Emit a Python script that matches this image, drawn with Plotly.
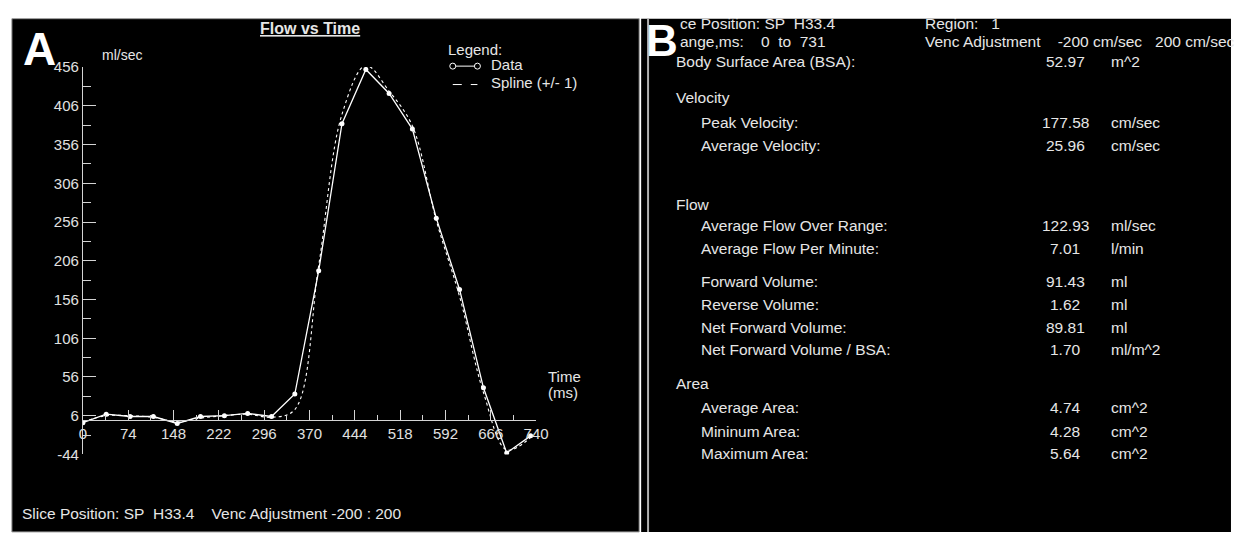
import plotly.graph_objects as go

W, H = 1242, 538

# ---------------- data ----------------
time_ms = [0, 38, 77, 115, 154, 192, 231, 269, 308, 346, 385, 423, 462, 500, 538, 577, 615, 654, 692, 731]
flow_data = [-3, 8, 5, 5, -4, 5, 6, 9, 5, 34, 193, 383, 453, 422, 376, 261, 169, 42, -42, -20]
flow_spline = [-2, 6, 6, 4, -2, 3, 6, 8, 4, 14, 200, 395, 458, 425, 380, 258, 160, 36, -38, -22]

y_ticks = [-44, 6, 56, 106, 156, 206, 256, 306, 356, 406, 456]
y_minor = [-19, 31, 81, 131, 181, 231, 281, 331, 381, 431]
x_ticks = [0, 74, 148, 222, 296, 370, 444, 518, 592, 666, 740]
x_minor = [37, 111, 185, 259, 333, 407, 481, 555, 629, 703]

header_rows = [("ce Position: SP\u00a0\u00a0H33.4", "Region:\u00a0\u00a0\u00a01"),
               ("ange,ms:\u00a0\u00a0\u00a0\u00a00\u00a0\u00a0to\u00a0\u00a0731",
                "Venc Adjustment\u00a0\u00a0\u00a0\u00a0-200 cm/sec\u00a0\u00a0\u00a0200 cm/sec")]
section_titles = ["Velocity", "Flow", "Area"]
stat_labels = ["Body Surface Area (BSA):", "Peak Velocity:", "Average Velocity:",
               "Average Flow Over Range:", "Average Flow Per Minute:",
               "Forward Volume:", "Reverse Volume:", "Net Forward Volume:",
               "Net Forward Volume / BSA:", "Average Area:", "Mininum Area:", "Maximum Area:"]
stat_values = ["52.97", "177.58", "25.96", "122.93", "7.01", "91.43", "1.62", "89.81",
               "1.70", "4.74", "4.28", "5.64"]
stat_units = ["m^2", "cm/sec", "cm/sec", "ml/sec", "l/min", "ml", "ml", "ml", "ml/m^2",
              "cm^2", "cm^2", "cm^2"]

# ---------------- layout helpers (pixel -> paper) ----------------
def px(x):
    return x / W

def py(y):
    return 1 - y / H

FONT = "Liberation Sans, Arial, sans-serif"
AX = "#d4d4d4"

# plot area in pixels
X0, X1 = 80, 539.5          # time 0 .. 740
YT, YB = 60, 460            # flow 456 .. -44
Y_ZERO = YB - (0 - (-44)) * (YB - YT) / 500.0

fig = go.Figure()

fig.add_trace(go.Scatter(x=time_ms, y=flow_spline, mode="lines", line_shape="spline",
                         line=dict(color="white", width=1.1, dash="dot"),
                         name="Spline (+/- 1)", showlegend=False, hoverinfo="skip"))
fig.add_trace(go.Scatter(x=time_ms, y=flow_data, mode="lines+markers",
                         line=dict(color="white", width=1.3),
                         marker=dict(color="white", size=5),
                         name="Data", showlegend=False))

shapes = []
# panel backgrounds
shapes.append(dict(type="rect", xref="paper", yref="paper", x0=px(8), x1=px(644), y0=py(540), y1=py(10),
                   fillcolor="black", line=dict(color="#9a9a9a", width=1), layer="below"))
shapes.append(dict(type="rect", xref="paper", yref="paper", x0=px(646), x1=px(1244), y0=py(540), y1=py(10),
                   fillcolor="black", line=dict(width=0), layer="below"))
shapes.append(dict(type="line", xref="paper", yref="paper", x0=px(653), x1=px(653), y0=py(540), y1=py(10),
                   line=dict(color="#b0b0b0", width=2), layer="below"))

# custom legend symbols
LGX0, LGX1 = 455, 480
shapes.append(dict(type="line", xref="paper", yref="paper", x0=px(LGX0), x1=px(LGX1), y0=py(59), y1=py(59),
                   line=dict(color="white", width=1)))
for cx in (LGX0, LGX1):
    shapes.append(dict(type="circle", xref="paper", yref="paper", xsizemode="pixel", ysizemode="pixel",
                       xanchor=px(cx), yanchor=py(59), x0=-3, x1=3, y0=-3, y1=3,
                       fillcolor="black", line=dict(color="white", width=1)))
shapes.append(dict(type="line", xref="paper", yref="paper", x0=px(LGX0), x1=px(LGX1), y0=py(78), y1=py(78),
                   line=dict(color="white", width=1, dash="dash")))

ann = []
def text(x, y, s, size=15, anchor="left", color="#e6e6e6", bold=False, yanchor="middle"):
    ann.append(dict(x=px(x), y=py(y), xref="paper", yref="paper", text=s, showarrow=False,
                    xanchor=anchor, yanchor=yanchor,
                    font=dict(family=FONT, size=size, color=color,
                              weight="bold" if bold else "normal")))

# Panel A texts
text(36, 41, "A", size=46, anchor="center", color="white", bold=True)
text(310, 20, "<u>Flow vs Time</u>", size=16, anchor="center", color="#e6e6e6", bold=True)
text(97, 47, "ml/sec", size=14)
text(448, 42, "Legend:", size=15)
text(492, 57, "Data", size=15)
text(492, 76, "Spline (+/- 1)", size=15)
text(550, 380, "Time", size=15)
text(550, 396, "(ms)", size=15)
text(16, 521, "Slice Position: SP\u00a0\u00a0H33.4\u00a0\u00a0\u00a0\u00a0Venc Adjustment -200 : 200", size=15.5)

# Panel B texts
text(667, 33, "B", size=44, anchor="center", color="white", bold=True)
hdr_y = [15, 34]
for (l, r), yy in zip(header_rows, hdr_y):
    text(683, yy, l, size=15.5)
    text(932, yy, r, size=15.5)

sec_y = [91, 202, 387]
for s, yy in zip(section_titles, sec_y):
    text(679, yy, s, size=15.5)

row_y = [54, 117, 141, 224, 247, 281, 305, 329, 352, 412, 436, 459]
for i, (l, v, u, yy) in enumerate(zip(stat_labels, stat_values, stat_units, row_y)):
    text(679 if i == 0 else 705, yy, l, size=15.5)
    text(1076, yy, v, size=15.5, anchor="center")
    text(1120, yy, u, size=15.5)

fig.update_layout(
    width=W, height=H, margin=dict(l=0, r=0, t=0, b=0), autosize=False,
    paper_bgcolor="white", plot_bgcolor="rgba(0,0,0,0)",
    showlegend=False, shapes=shapes, annotations=ann,
    xaxis=dict(domain=[px(X0), px(X1)], range=[0, 740], anchor="free", position=py(Y_ZERO),
               showgrid=False, zeroline=False, showline=True, linecolor=AX, linewidth=1,
               tickmode="array", tickvals=x_ticks, ticktext=[str(t) for t in x_ticks],
               ticks="inside", ticklen=10, tickcolor=AX, tickwidth=1,
               tickfont=dict(family=FONT, size=15, color="#e0e0e0"),
               minor=dict(tickmode="array", tickvals=x_minor, ticks="inside", ticklen=5,
                          tickcolor=AX, tickwidth=1, showgrid=False),
               fixedrange=True),
    yaxis=dict(domain=[py(YB), py(YT)], range=[-44, 456], anchor="x",
               showgrid=False, zeroline=False, showline=True, linecolor=AX, linewidth=1,
               tickmode="array", tickvals=y_ticks, ticktext=[str(t) for t in y_ticks],
               ticks="inside", ticklen=13, tickcolor=AX, tickwidth=1,
               tickfont=dict(family=FONT, size=15, color="#e0e0e0"),
               minor=dict(tickmode="array", tickvals=y_minor, ticks="inside", ticklen=8,
                          tickcolor=AX, tickwidth=1, showgrid=False),
               fixedrange=True),
)

POST = ("document.documentElement.style.margin='0px';"
        "document.body.style.margin='0px';document.body.style.padding='0px';"
        "document.body.style.overflow='hidden';")

fig.write_html("out.html", config={"displayModeBar": False, "responsive": False},
               post_script=POST)
